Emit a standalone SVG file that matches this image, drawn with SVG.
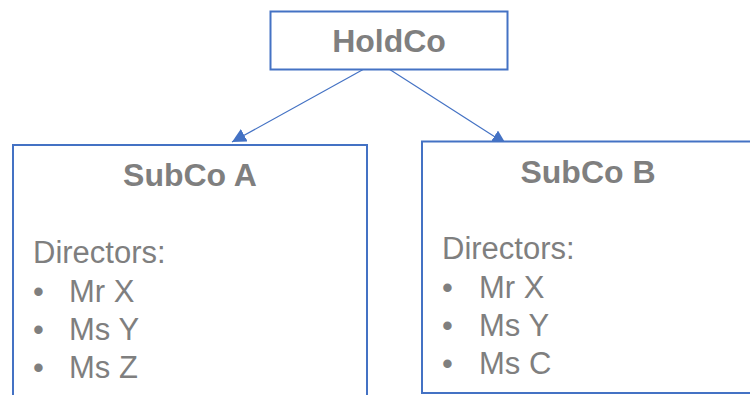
<svg xmlns="http://www.w3.org/2000/svg" width="750" height="395" viewBox="0 0 750 395">
  <style>
    .box { fill: #FFFFFF; stroke: #4472C4; stroke-width: 2; }
    .link { stroke: #4472C4; stroke-width: 1.2; fill: none; }
    .title { font-family: "Liberation Sans", Arial, sans-serif; font-weight: bold; font-size: 32px; fill: #7F7F7F; text-anchor: middle; }
    .body { font-family: "Liberation Sans", Arial, sans-serif; font-size: 31px; fill: #7F7F7F; }
  </style>
  <defs>
    <marker id="arrow" markerUnits="userSpaceOnUse" markerWidth="15" markerHeight="15" refX="14" refY="7" orient="auto">
      <path d="M0,0 L14,7 L0,14 Z" fill="#4472C4"/>
    </marker>
  </defs>
  <rect width="750" height="395" fill="#FFFFFF"/>

  <!-- connectors -->
  <g id="connectors">
    <line class="link" x1="364" y1="69" x2="232" y2="142" marker-end="url(#arrow)"/>
    <line class="link" x1="389" y1="69" x2="506" y2="144" marker-end="url(#arrow)"/>
  </g>

  <!-- parent company -->
  <g id="holdco">
    <rect class="box" x="270.5" y="11.5" width="237" height="58"/>
    <text class="title" x="389" y="52">HoldCo</text>
  </g>

  <!-- subsidiary A -->
  <g id="subco-a">
    <rect class="box" x="13" y="145" width="354" height="260"/>
    <text class="title" x="190" y="186">SubCo A</text>
    <text class="body" x="33" y="263">Directors:</text>
    <text class="body" x="33" y="302">•</text>
    <text class="body" x="69" y="302">Mr X</text>
    <text class="body" x="33" y="340">•</text>
    <text class="body" x="69" y="340">Ms Y</text>
    <text class="body" x="33" y="378">•</text>
    <text class="body" x="69" y="378">Ms Z</text>
  </g>

  <!-- subsidiary B -->
  <g id="subco-b">
    <rect class="box" x="422" y="141.5" width="334" height="251.5"/>
    <text class="title" x="588" y="183">SubCo B</text>
    <text class="body" x="442" y="259">Directors:</text>
    <text class="body" x="442" y="298">•</text>
    <text class="body" x="479" y="298">Mr X</text>
    <text class="body" x="442" y="336">•</text>
    <text class="body" x="479" y="336">Ms Y</text>
    <text class="body" x="442" y="374">•</text>
    <text class="body" x="479" y="374">Ms C</text>
  </g>
</svg>
